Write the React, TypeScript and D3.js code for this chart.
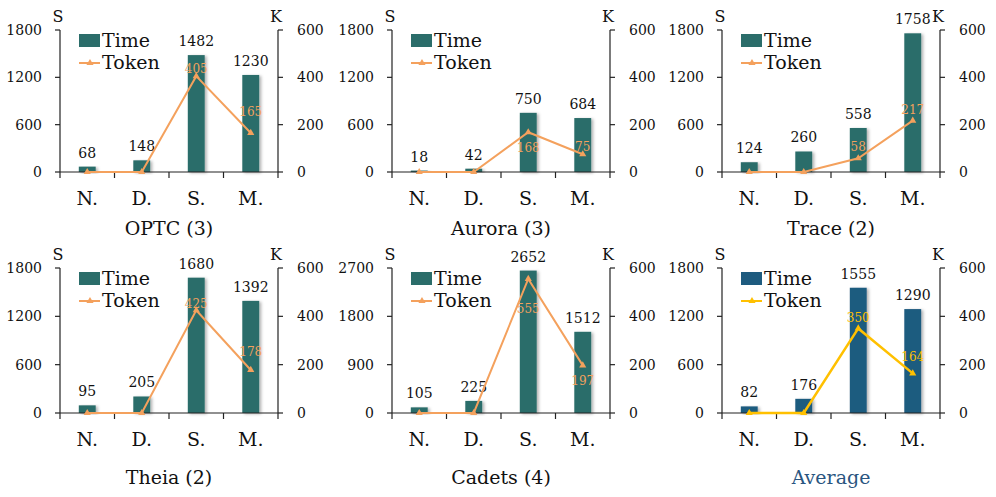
import React from 'react';
import * as d3 from 'd3';

// categories shared by every panel
const categories = ['N.', 'D.', 'S.', 'M.'];

// time (seconds) per panel
const optcTime = [68, 148, 1482, 1230];
const auroraTime = [18, 42, 750, 684];
const traceTime = [124, 260, 558, 1758];
const theiaTime = [95, 205, 1680, 1392];
const cadetsTime = [105, 225, 2652, 1512];
const averageTime = [82, 176, 1555, 1290];

// token (K) per panel
const optcToken = [0, 0, 405, 165];
const auroraToken = [0, 0, 168, 75];
const traceToken = [0, 0, 58, 217];
const theiaToken = [0, 0, 425, 178];
const cadetsToken = [0, 0, 555, 197];
const averageToken = [0, 0, 350, 164];

// axis ticks
const timeTicks = [0, 600, 1200, 1800];
const cadetsTimeTicks = [0, 900, 1800, 2700];
const tokenTicks = [0, 200, 400, 600];

const titles = ['OPTC (3)', 'Aurora (3)', 'Trace (2)', 'Theia (2)', 'Cadets (4)', 'Average'];

// label nudges for the token values (px from the point to the text baseline)
const tokenLabelDy = [
  [0, 0, -3, -17],
  [0, 0, 20, -3],
  [0, 0, -7, -7],
  [0, 0, -2, -14],
  [0, 0, 34, 20],
  [0, 0, -6, -12],
];

const panels = [
  { title: titles[0], time: optcTime, token: optcToken, ticks: timeTicks },
  { title: titles[1], time: auroraTime, token: auroraToken, ticks: timeTicks },
  { title: titles[2], time: traceTime, token: traceToken, ticks: timeTicks },
  { title: titles[3], time: theiaTime, token: theiaToken, ticks: timeTicks },
  { title: titles[4], time: cadetsTime, token: cadetsToken, ticks: cadetsTimeTicks },
  { title: titles[5], time: averageTime, token: averageToken, ticks: timeTicks },
];

const W = 996;
const H = 497;
const FONT = "'DejaVu Serif', 'Liberation Serif', serif";
const TEAL = '#2b6d6a';
const BLUE = '#1e5b7f';
const ORANGE = '#f4a15d';
const GOLD = '#ffc000';

const colX = [60, 392, 722];
const rowTop = [30, 268];
const rowBase = [172, 413];
const plotW = 218;

const Panel: React.FC<{ idx: number }> = ({ idx }) => {
  const p = panels[idx];
  const col = idx % 3;
  const row = Math.floor(idx / 3);
  const x0 = colX[col];
  const top = rowTop[row];
  const base = rowBase[row];
  const isAvg = idx === 5;
  const barColor = isAvg ? BLUE : TEAL;
  const lineColor = isAvg ? GOLD : ORANGE;

  const x = d3.scaleBand<string>().domain(categories).range([x0, x0 + plotW]);
  const yL = d3.scaleLinear().domain([0, p.ticks[p.ticks.length - 1]]).range([base, top]);
  const yR = d3.scaleLinear().domain([0, tokenTicks[tokenTicks.length - 1]]).range([base, top]);
  const bw = x.bandwidth() * 0.31;
  const cx = (c: string) => (x(c) ?? 0) + x.bandwidth() / 2;

  const line = d3.line<number>()
    .x((_, i) => cx(categories[i]))
    .y(d => yR(d));

  const tri = d3.symbol().type(d3.symbolTriangle).size(22)();
  const xr = x0 + plotW;
  const catY = base + 33;
  const titleY = row === 0 ? base + 63 : base + 71;

  return (
    <g style={{ fontFamily: FONT }}>
      {/* bars */}
      {p.time.map((v, i) => (
        <rect key={'b' + i}
          x={cx(categories[i]) - bw / 2} y={yL(v)}
          width={bw} height={base - yL(v)}
          fill={barColor} filter="url(#shadow)" />
      ))}
      {p.time.map((v, i) => (
        <text key={'bl' + i} x={cx(categories[i])} y={yL(v) - 9}
          textAnchor="middle" fontSize={14} fill="#111">{v}</text>
      ))}

      {/* axes */}
      <line x1={x0} x2={x0} y1={top} y2={base} stroke="#222" strokeWidth={1.2} />
      <line x1={xr} x2={xr} y1={top} y2={base} stroke="#222" strokeWidth={1.2} />
      <line x1={x0} x2={xr} y1={base} y2={base} stroke="#222" strokeWidth={1.2} />
      {p.ticks.map(t => (
        <g key={'lt' + t}>
          <line x1={x0 - 5} x2={x0} y1={yL(t)} y2={yL(t)} stroke="#222" strokeWidth={1.2} />
          <text x={x0 - 18} y={yL(t)} dy="0.35em" textAnchor="end" fontSize={14} fill="#111">{t}</text>
        </g>
      ))}
      {tokenTicks.map(t => (
        <g key={'rt' + t}>
          <line x1={xr} x2={xr + 5} y1={yR(t)} y2={yR(t)} stroke="#222" strokeWidth={1.2} />
          <text x={xr + 19} y={yR(t)} dy="0.35em" textAnchor="start" fontSize={14} fill="#111">{t}</text>
        </g>
      ))}
      {[...categories.map(c => x(c) ?? 0), xr].map((t, i) => (
        <line key={'xt' + i} x1={t} x2={t} y1={base} y2={base + 6} stroke="#222" strokeWidth={1.2} />
      ))}
      {categories.map(c => (
        <text key={'c' + c} x={cx(c)} y={catY} textAnchor="middle" fontSize={19} fill="#111">{c}</text>
      ))}
      <text x={x0 - 2} y={top - 8} textAnchor="middle" fontSize={16} fill="#111">S</text>
      <text x={xr - 2} y={top - 8} textAnchor="middle" fontSize={16} fill="#111">K</text>
      <text x={(x0 + xr) / 2} y={titleY} textAnchor="middle" fontSize={19}
        fill={isAvg ? '#2a5580' : '#111'}>{p.title}</text>

      {/* token line */}
      <path d={line(p.token) ?? ''} fill="none" stroke={lineColor} strokeWidth={isAvg ? 2.5 : 2} />
      {p.token.map((v, i) => (
        <path key={'m' + i} d={tri ?? ''} transform={`translate(${cx(categories[i])},${yR(v)})`} fill={lineColor} />
      ))}
      {p.token.map((v, i) => (v > 0 ? (
        <text key={'tl' + i} x={cx(categories[i])} y={yR(v) + tokenLabelDy[idx][i]}
          textAnchor="middle" fontSize={12} fill={lineColor}>{v}</text>
      ) : null))}

      {/* legend */}
      <rect x={x0 + 19} y={top + 4} width={21} height={13} fill={barColor} />
      <text x={x0 + 42} y={top + 17} fontSize={19} fill="#111">Time</text>
      <line x1={x0 + 19} x2={x0 + 40} y1={top + 33} y2={top + 33} stroke={lineColor} strokeWidth={2} />
      <path d={tri ?? ''} transform={`translate(${x0 + 30},${top + 33})`} fill={lineColor} />
      <text x={x0 + 42} y={top + 39} fontSize={19} fill="#111">Token</text>
    </g>
  );
};

export default function App() {
  return (
    <svg width={W} height={H} style={{ position: 'absolute', left: 0, top: 0, background: '#fff' }}>
      <defs>
        <filter id="shadow" x="-30%" y="-10%" width="160%" height="130%">
          <feDropShadow dx="2" dy="1" stdDeviation="1.5" floodColor="#000" floodOpacity="0.3" />
        </filter>
      </defs>
      <rect width={W} height={H} fill="#fff" />
      {panels.map((_, i) => <Panel key={i} idx={i} />)}
    </svg>
  );
}
